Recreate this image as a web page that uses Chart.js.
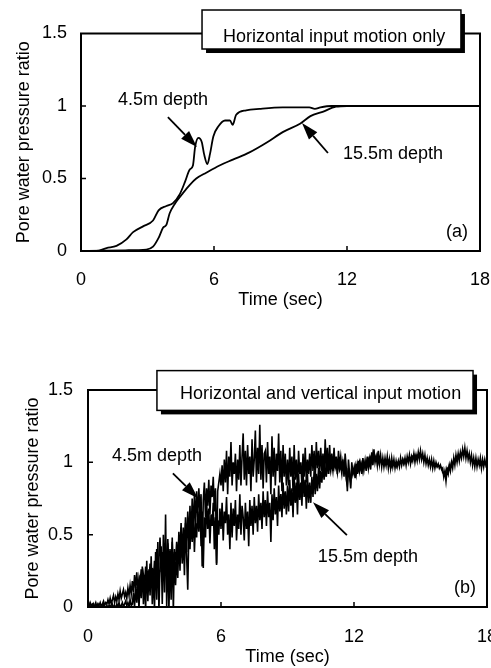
<!DOCTYPE html>
<html>
<head>
<meta charset="utf-8">
<script src="https://cdn.jsdelivr.net/npm/chart.js@4/dist/chart.umd.min.js"></script>
<style>
  html, body { margin: 0; padding: 0; background: #fff; overflow: hidden; width: 491px; height: 668px; }
  canvas { position: absolute; left: 0; }
  #chartA { top: 0; }
  #chartB { top: 330px; }
</style>
</head>
<body>
<canvas id="chartA" width="491" height="320"></canvas>
<canvas id="chartB" width="491" height="338"></canvas>
<script>
// axis ticks
const xTicks = ['0', '6', '12', '18']
const yTicks = ['0', '0.5', '1', '1.5']

// (a) horizontal input motion only
const timeA45 = [0, 0.7, 1.15, 1.6, 2.05, 2.35, 2.8, 3.25, 3.5, 3.85, 4.15, 4.45, 4.7, 4.9, 5.05, 5.15, 5.3, 5.45, 5.55, 5.7, 5.82, 5.97, 6.2, 6.5, 6.72, 6.84, 7.0, 7.45, 8.05, 9.1, 10.3, 10.55, 10.8, 11.3, 12, 14, 16, 18]
const pwpA45 = [0, 0, 0.02, 0.035, 0.08, 0.13, 0.17, 0.21, 0.28, 0.31, 0.33, 0.39, 0.48, 0.56, 0.59, 0.72, 0.78, 0.75, 0.67, 0.60, 0.67, 0.79, 0.86, 0.90, 0.90, 0.87, 0.94, 0.97, 0.98, 0.99, 0.99, 0.98, 0.99, 1.0, 1.0, 1.0, 1.0, 1.0]
const timeA155 = [0, 1, 2, 2.95, 3.25, 3.5, 3.7, 3.85, 4.0, 4.25, 4.55, 4.9, 5.2, 5.65, 6.25, 6.85, 7.6, 8.4, 9.1, 9.9, 10.35, 10.9, 11.5, 12, 14, 16, 18]
const pwpA155 = [0, 0.003, 0.005, 0.01, 0.03, 0.09, 0.16, 0.18, 0.26, 0.33, 0.39, 0.455, 0.50, 0.54, 0.59, 0.63, 0.68, 0.75, 0.82, 0.88, 0.93, 0.96, 0.995, 1.0, 1.0, 1.0, 1.0]

// (b) horizontal and vertical input motion, one value every 0.05 s (one row per second)
const pwpB45 = [
  0.02,0.00,0.03,0.01,0.02,0.00,0.01,0.03,0.00,0.02,0.01,0.03,0.00,0.02,0.04,0.01,0.03,0.02,0.05,0.02,
  0.06,0.02,0.05,0.08,0.03,0.07,0.04,0.09,0.05,0.11,0.06,0.09,0.12,0.07,0.10,0.06,0.13,0.08,0.15,0.09,
  0.18,0.10,0.22,0.13,0.24,0.11,0.20,0.15,0.26,0.12,0.22,0.16,0.28,0.13,0.25,0.17,0.30,0.14,0.27,0.19,
  0.32,0.18,0.40,0.22,0.35,0.48,0.24,0.38,0.27,0.44,0.22,0.36,0.47,0.26,0.40,0.30,0.45,0.25,0.38,0.32,
  0.45,0.30,0.52,0.36,0.58,0.34,0.55,0.40,0.62,0.38,0.66,0.44,0.70,0.48,0.75,0.52,0.78,0.58,0.80,0.62,
  0.82,0.66,0.78,0.28,0.74,0.86,0.62,0.82,0.70,0.88,0.64,0.84,0.76,0.90,0.66,0.82,0.30,0.80,0.86,0.92,
  0.84,0.98,0.80,1.02,0.86,1.08,0.78,1.04,0.90,1.14,0.84,1.00,0.92,1.06,0.80,1.02,0.88,1.12,0.84,1.04,
  1.20,0.88,1.08,0.84,1.12,0.92,1.04,0.80,1.16,0.90,1.02,1.22,0.86,1.10,0.92,1.26,0.88,1.12,0.82,1.06,
  1.08,0.86,1.14,0.92,1.04,0.78,1.18,0.90,1.10,0.84,1.06,0.94,1.20,0.86,1.08,0.80,1.12,0.90,1.06,0.84,
  1.02,0.84,1.10,0.90,1.04,0.80,1.12,0.88,1.02,0.82,1.08,0.92,1.00,0.84,1.06,0.90,1.10,0.86,1.02,0.92,
  1.06,0.90,1.12,0.94,1.08,0.88,1.14,0.96,1.08,0.92,1.10,0.94,1.06,0.90,1.16,0.96,1.10,0.92,1.12,0.96,
  1.06,0.94,1.10,0.96,1.04,0.92,1.08,0.98,1.04,0.94,1.02,0.90,1.06,0.96,0.80,1.02,0.92,0.82,1.00,0.92,
  0.96,0.89,0.99,0.92,1.01,0.94,0.99,0.92,1.03,0.95,1.01,0.94,1.04,0.96,1.02,0.95,1.07,0.98,1.09,1.00,
  1.04,0.98,1.08,0.99,1.05,0.97,1.03,0.97,1.03,0.98,1.04,0.96,1.02,0.96,1.03,0.97,1.02,0.96,1.01,0.97,
  1.01,0.97,1.03,0.98,1.02,0.99,1.03,0.98,1.04,1.00,1.05,0.99,1.04,1.01,1.06,1.00,1.05,1.01,1.07,1.02,
  1.08,1.02,1.06,1.00,1.05,0.99,1.03,0.98,1.02,0.97,1.02,0.96,1.01,0.96,1.00,0.97,0.99,0.96,0.98,0.95,
  0.96,0.90,0.94,0.87,0.95,0.92,0.98,0.94,1.00,0.96,1.03,0.98,1.05,1.00,1.06,1.01,1.07,1.03,1.09,1.04,
  1.10,1.03,1.08,1.02,1.06,1.00,1.05,0.98,1.03,0.97,1.03,0.97,1.02,0.98,1.03,0.96,1.02,0.97,1.02,0.98,
  1.00
]
const pwpB155 = [
  0.00,0.02,-0.01,0.01,0.00,0.02,-0.01,0.01,0.00,0.02,0.00,-0.01,0.01,0.00,0.02,0.00,-0.01,0.01,0.00,0.01,
  0.01,-0.01,0.02,0.00,0.01,-0.01,0.02,0.00,0.03,0.00,0.01,0.03,0.00,0.02,0.04,0.01,0.03,0.00,0.05,0.01,
  0.02,0.10,0.00,0.14,0.03,0.18,-0.02,0.22,0.06,0.28,0.02,0.20,-0.02,0.32,0.04,0.26,0.08,0.35,0.02,0.24,
  -0.02,0.38,0.05,0.45,-0.03,0.30,0.42,0.02,0.50,0.10,0.64,0.00,0.44,-0.03,0.36,0.05,0.48,-0.03,0.40,0.15,
  0.35,0.20,0.48,0.25,0.55,0.30,0.50,0.22,0.58,0.35,0.12,0.52,0.40,0.60,0.45,0.65,0.38,0.58,0.48,0.66,
  0.52,0.72,0.42,0.66,0.27,0.62,0.48,0.74,0.54,0.68,0.44,0.64,0.56,0.72,0.40,0.62,0.29,0.60,0.50,0.68,
  0.54,0.72,0.46,0.66,0.58,0.76,0.50,0.64,0.40,0.72,0.48,0.68,0.56,0.74,0.46,0.64,0.54,0.78,0.50,0.70,
  0.62,0.46,0.72,0.54,0.66,0.42,0.74,0.56,0.70,0.50,0.76,0.58,0.70,0.52,0.78,0.60,0.72,0.54,0.80,0.62,
  0.74,0.56,0.80,0.62,0.72,0.45,0.78,0.60,0.82,0.64,0.76,0.56,0.84,0.66,0.78,0.62,0.86,0.68,0.80,0.64,
  0.84,0.66,0.88,0.70,0.82,0.62,0.90,0.72,0.86,0.64,0.92,0.74,0.86,0.70,0.94,0.76,0.88,0.68,0.92,0.72,
  0.86,0.72,0.90,0.76,0.94,0.78,0.92,0.80,0.96,0.82,0.94,0.86,0.98,0.88,0.96,0.90,1.02,0.92,1.00,0.94,
  1.00,0.94,1.02,0.96,0.99,0.93,1.01,0.95,0.98,0.92,1.00,0.94,0.98,0.88,0.84,0.96,0.90,0.86,0.96,0.92,
  0.94,0.98,0.92,0.99,0.95,1.00,0.96,0.99,0.94,1.00,0.97,1.01,0.98,1.02,0.99,1.03,1.00,1.06,1.01,1.04,
  1.02,1.05,1.00,1.03,1.01,1.00,0.99,1.01,0.98,1.00,0.99,1.01,0.98,0.99,0.97,1.00,0.98,0.99,0.97,1.00,
  1.00,0.99,1.01,1.00,1.02,0.99,1.01,1.02,1.01,1.03,1.02,1.03,1.01,1.04,1.03,1.05,1.03,1.05,1.04,1.06,
  1.05,1.04,1.03,1.04,1.02,1.02,1.01,1.01,1.00,1.00,0.99,0.99,0.98,0.99,0.98,0.97,0.98,0.97,0.97,0.96,
  0.93,0.92,0.91,0.94,0.96,0.95,0.98,0.97,1.00,0.99,1.02,1.01,1.04,1.03,1.05,1.04,1.06,1.05,1.07,1.06,
  1.07,1.06,1.05,1.04,1.03,1.03,1.02,1.01,1.01,1.00,1.00,0.99,0.99,1.00,0.98,0.99,0.99,0.98,1.00,0.99,
  1.00
]
const timeB = pwpB45.map((_, i) => i / 20)

const FONT = '"Liberation Sans", Arial, Helvetica, sans-serif'
Chart.defaults.font.family = FONT
Chart.defaults.font.size = 18
Chart.defaults.color = '#000'

const pts = (xs, ys) => xs.map((x, i) => ({ x: x, y: ys[i] }))

// frame, inner ticks, title box, labels and arrows (positions in data units)
const decor = {
  id: 'decor',
  afterDraw(chart, args, o) {
    const { ctx, chartArea: a, scales: { x, y } } = chart
    const px = t => x.getPixelForValue(t)
    const py = v => y.getPixelForValue(v)
    ctx.save()
    ctx.strokeStyle = '#000'
    ctx.fillStyle = '#000'
    ctx.lineWidth = 2
    ctx.strokeRect(a.left, a.top, a.right - a.left, a.bottom - a.top)

    ctx.lineWidth = 1.5
    ctx.beginPath()
    x.ticks.forEach(tk => {
      if (tk.value > x.min && tk.value < x.max) {
        ctx.moveTo(px(tk.value), a.bottom)
        ctx.lineTo(px(tk.value), a.bottom - 5)
      }
    })
    y.ticks.forEach(tk => {
      if (tk.value > y.min && tk.value < y.max) {
        ctx.moveTo(a.left, py(tk.value))
        ctx.lineTo(a.left + 5, py(tk.value))
      }
    })
    ctx.stroke()

    // title box with shadow
    const b = o.box
    const l = px(b.t0), r = px(b.t1), tp = py(b.v0), bt = py(b.v1)
    ctx.fillRect(l + 4, tp + 4, r - l, bt - tp)
    ctx.fillStyle = '#fff'
    ctx.fillRect(l, tp, r - l, bt - tp)
    ctx.lineWidth = 1.5
    ctx.strokeRect(l, tp, r - l, bt - tp)
    ctx.fillStyle = '#000'
    ctx.font = '18px ' + FONT
    ctx.textAlign = 'left'
    ctx.textBaseline = 'alphabetic'
    ctx.fillText(b.text, px(b.tt), py(b.vt))

    ctx.textBaseline = 'middle'
    o.labels.forEach(lb => {
      ctx.textAlign = lb.align || 'left'
      ctx.fillText(lb.text, px(lb.t), py(lb.v))
    })

    o.arrows.forEach(ar => {
      const x0 = px(ar.t0), y0 = py(ar.v0), x1 = px(ar.t1), y1 = py(ar.v1)
      const ang = Math.atan2(y1 - y0, x1 - x0)
      const len = 17, half = 5.5
      const bx = x1 - len * Math.cos(ang), by = y1 - len * Math.sin(ang)
      ctx.lineWidth = 1.8
      ctx.beginPath()
      ctx.moveTo(x0, y0)
      ctx.lineTo(bx, by)
      ctx.stroke()
      ctx.beginPath()
      ctx.moveTo(x1, y1)
      ctx.lineTo(bx + half * Math.sin(ang), by - half * Math.cos(ang))
      ctx.lineTo(bx - half * Math.sin(ang), by + half * Math.cos(ang))
      ctx.closePath()
      ctx.fill()
    })
    ctx.restore()
  }
}

function makeScales(yW, xH, yTitlePad, xTitlePad, xTickPad, yTickPad) {
  return {
    x: {
      type: 'linear', min: 0, max: 18,
      grid: { display: false, drawTicks: false },
      border: { display: false },
      ticks: { stepSize: 6, padding: xTickPad, maxRotation: 0, callback: (v, i) => xTicks[i] },
      title: { display: true, text: 'Time (sec)', padding: { top: 0, bottom: xTitlePad } },
      afterFit: s => { s.height = xH; s.paddingLeft = 0; s.paddingRight = 0 }
    },
    y: {
      min: 0, max: 1.5,
      grid: { display: false, drawTicks: false },
      border: { display: false },
      ticks: { stepSize: 0.5, padding: yTickPad, callback: (v, i) => yTicks[i] },
      title: { display: true, text: 'Pore water pressure ratio', padding: { top: yTitlePad, bottom: 0 } },
      afterFit: s => { s.width = yW; s.paddingTop = 0; s.paddingBottom = 0 }
    }
  }
}

new Chart(document.getElementById('chartA'), {
  type: 'line',
  data: {
    datasets: [
      { label: '4.5m depth', data: pts(timeA45, pwpA45), cubicInterpolationMode: 'monotone' },
      { label: '15.5m depth', data: pts(timeA155, pwpA155), cubicInterpolationMode: 'monotone' }
    ]
  },
  options: {
    responsive: false,
    animation: false,
    devicePixelRatio: 1,
    layout: { padding: { top: 33.5, right: 11, left: 0, bottom: 0 } },
    elements: { point: { radius: 0 }, line: { borderColor: '#000', borderWidth: 1.8 } },
    scales: makeScales(81, 69, 13, 9, 18, 14),
    plugins: {
      legend: { display: false },
      tooltip: { enabled: false },
      decor: {
        box: { t0: 5.46, t1: 17.14, v0: 1.662, v1: 1.393, text: 'Horizontal input motion only', tt: 6.41, vt: 1.441 },
        labels: [
          { text: '4.5m depth', t: 1.67, v: 1.04 },
          { text: '15.5m depth', t: 11.82, v: 0.669 },
          { text: '(a)', t: 17.46, v: 0.131, align: 'right' }
        ],
        arrows: [
          { t0: 3.92, v0: 0.924, t1: 5.23, v1: 0.717 },
          { t0: 11.14, v0: 0.676, t1: 9.97, v1: 0.883 }
        ]
      }
    }
  },
  plugins: [decor]
})

new Chart(document.getElementById('chartB'), {
  type: 'line',
  data: {
    datasets: [
      { label: '4.5m depth', data: pts(timeB, pwpB45) },
      { label: '15.5m depth', data: pts(timeB, pwpB155) }
    ]
  },
  options: {
    responsive: false,
    animation: false,
    devicePixelRatio: 1,
    layout: { padding: { top: 60, right: 4, left: 0, bottom: 0 } },
    elements: { point: { radius: 0 }, line: { borderColor: '#000', borderWidth: 1.6, tension: 0 } },
    scales: makeScales(88, 61, 22, 0, 19, 15),
    plugins: {
      legend: { display: false },
      tooltip: { enabled: false },
      decor: {
        box: { t0: 3.11, t1: 17.37, v0: 1.634, v1: 1.359, text: 'Horizontal and vertical input motion', tt: 4.15, vt: 1.441 },
        labels: [
          { text: '4.5m depth', t: 1.08, v: 1.041 },
          { text: '15.5m depth', t: 10.37, v: 0.345 },
          { text: '(b)', t: 17.5, v: 0.13, align: 'right' }
        ],
        arrows: [
          { t0: 3.83, v0: 0.924, t1: 4.96, v1: 0.752 },
          { t0: 11.68, v0: 0.497, t1: 10.15, v1: 0.724 }
        ]
      }
    }
  },
  plugins: [decor]
})
</script>
</body>
</html>
